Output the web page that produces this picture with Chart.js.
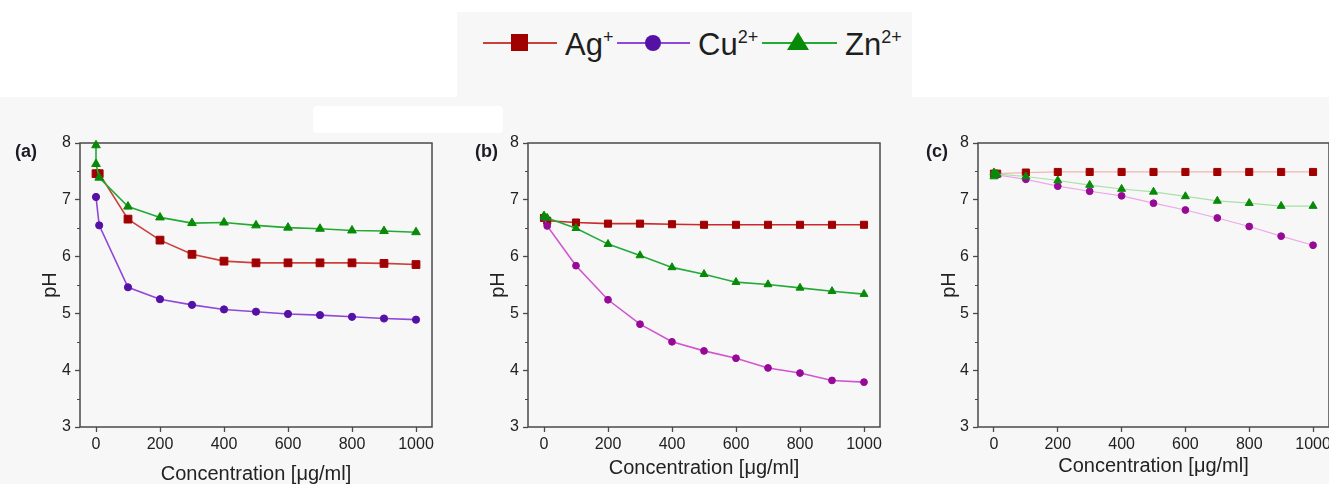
<!DOCTYPE html>
<html>
<head>
<meta charset="utf-8">
<script src="https://cdn.jsdelivr.net/npm/chart.js@4.4.0/dist/chart.umd.min.js"></script>
<style>
html,body{margin:0;padding:0;width:1329px;height:484px;overflow:hidden;background:#fff;font-family:'Liberation Sans',Arial,sans-serif;}
#panelbg{position:absolute;left:0;top:97px;width:1329px;height:387px;background:#f7f7f7;}
#legendbg{position:absolute;left:457px;top:12px;width:455px;height:86px;background:#f7f7f7;}
#whitebox{position:absolute;left:313px;top:106px;width:190px;height:27px;background:#fff;border-radius:4px;}
canvas.cv{position:absolute;top:97px;}
.plabel{position:absolute;top:139px;font:bold 18px 'Liberation Sans',Arial,sans-serif;color:#1b1b24;line-height:24px;}
.lline{position:absolute;height:2px;top:42px;}
.ltext{position:absolute;top:29px;font-size:31px;line-height:31px;color:#1e1e1e;white-space:nowrap;}
.ltext sup{font-size:18px;vertical-align:12px;line-height:0;}
</style>
</head>
<body>
<div id="panelbg"></div>
<div id="legendbg"></div>
<div id="whitebox"></div>

<!-- legend -->
<div class="lline" style="left:483px;width:74px;background:#c8413c;"></div>
<div style="position:absolute;left:511px;top:34px;width:17px;height:17px;background:#a00000;"></div>
<div class="ltext" style="left:565px;">Ag<sup>+</sup></div>
<div class="lline" style="left:617px;width:73px;background:#9048d8;"></div>
<div style="position:absolute;left:645px;top:35px;width:16px;height:16px;border-radius:50%;background:#5510a5;"></div>
<div class="ltext" style="left:698px;">Cu<sup>2+</sup></div>
<div class="lline" style="left:762px;width:75px;background:#22aa33;"></div>
<div style="position:absolute;left:787px;top:32px;width:0;height:0;border-left:11px solid transparent;border-right:11px solid transparent;border-bottom:18px solid #078a07;"></div>
<div class="ltext" style="left:845px;">Zn<sup>2+</sup></div>

<canvas id="ca" class="cv" width="450" height="400" style="left:0px;"></canvas>
<canvas id="cb" class="cv" width="450" height="400" style="left:450px;"></canvas>
<canvas id="cc" class="cv" width="460" height="400" style="left:900px;"></canvas>

<div class="plabel" style="left:15px;">(a)</div>
<div class="plabel" style="left:475px;">(b)</div>
<div class="plabel" style="left:926px;">(c)</div>

<script>
// ---- data ----
const concX   = [0, 10, 100, 200, 300, 400, 500, 600, 700, 800, 900, 1000];
const concXZn = [0, 0, 10, 100, 200, 300, 400, 500, 600, 700, 800, 900, 1000];
const xTickValues = [0, 200, 400, 600, 800, 1000];
const yTickValues = [3, 4, 5, 6, 7, 8];
const yMinorTickValues = [3.5, 4.5, 5.5, 6.5, 7.5];
const seriesLabels = ['Ag+', 'Cu2+', 'Zn2+'];

// panel (a)
const agA = [7.46, 7.46, 6.66, 6.29, 6.04, 5.92, 5.89, 5.89, 5.89, 5.89, 5.88, 5.86];
const cuA = [7.05, 6.55, 5.46, 5.25, 5.15, 5.07, 5.03, 4.99, 4.97, 4.94, 4.91, 4.89];
const znA = [7.96, 7.63, 7.39, 6.88, 6.69, 6.59, 6.60, 6.55, 6.51, 6.49, 6.46, 6.45, 6.43];
// panel (b)
const agB = [6.68, 6.63, 6.60, 6.58, 6.58, 6.57, 6.56, 6.56, 6.56, 6.56, 6.56, 6.56];
const cuB = [6.68, 6.54, 5.84, 5.24, 4.81, 4.50, 4.34, 4.21, 4.04, 3.95, 3.82, 3.79];
const znB = [6.72, 6.70, 6.68, 6.50, 6.22, 6.02, 5.81, 5.69, 5.55, 5.51, 5.45, 5.39, 5.34];
// panel (c)
const agC = [7.46, 7.46, 7.48, 7.49, 7.49, 7.49, 7.49, 7.49, 7.49, 7.49, 7.49, 7.49];
const cuC = [7.45, 7.44, 7.36, 7.24, 7.15, 7.07, 6.94, 6.82, 6.68, 6.53, 6.36, 6.20];
const znC = [7.48, 7.41, 7.45, 7.41, 7.34, 7.26, 7.19, 7.14, 7.06, 6.98, 6.94, 6.89, 6.89];

// ---- styling ----
const FONT = "'Liberation Sans', Arial, sans-serif";
const AXIS_COLOR = '#4a4a4a';
Chart.defaults.font.family = FONT;

const framePlugin = {
  id: 'frame',
  beforeDatasetsDraw(chart) {
    const {ctx, chartArea: a, scales} = chart;
    ctx.save();
    ctx.strokeStyle = AXIS_COLOR;
    ctx.lineWidth = 1.5;
    ctx.strokeRect(a.left, a.top, a.right - a.left, a.bottom - a.top);
    ctx.lineWidth = 1.2;
    ctx.beginPath();
    yMinorTickValues.forEach(v => {
      const y = Math.round(scales.y.getPixelForValue(v)) + 0.5;
      ctx.moveTo(a.left - 3, y);
      ctx.lineTo(a.left, y);
    });
    ctx.stroke();
    ctx.restore();
  }
};

function toPoints(xs, ys) { return xs.map((x, i) => ({x: x, y: ys[i]})); }

function makeChart(id, series, cfg) {
  new Chart(document.getElementById(id), {
    type: 'scatter',
    data: {
      datasets: series.map(s => ({
        label: s.label,
        data: toPoints(s.xs, s.ys),
        showLine: true,
        tension: 0,
        borderColor: s.line,
        borderWidth: cfg.lw,
        backgroundColor: s.marker,
        pointBackgroundColor: s.marker,
        pointBorderColor: s.marker,
        pointBorderWidth: 1,
        pointStyle: s.style,
        pointRadius: s.r,
        pointHoverRadius: s.r,
        order: s.order,
        clip: false
      }))
    },
    options: {
      responsive: false,
      animation: false,
      devicePixelRatio: 1,
      events: [],
      layout: {padding: {left: 0, top: 46, right: cfg.padRight, bottom: 0}},
      plugins: {legend: {display: false}, tooltip: {enabled: false}, title: {display: false}},
      scales: {
        x: {
          type: 'linear', position: 'bottom', min: -50, max: 1050,
          afterBuildTicks: s => { s.ticks = xTickValues.map(v => ({value: v})); },
          afterFit: s => { s.height = 70; },
          border: {display: false},
          grid: {drawOnChartArea: false, drawTicks: true, tickLength: 5, tickColor: AXIS_COLOR, tickWidth: 1.3},
          ticks: {color: '#222', font: {size: 16, family: FONT}, padding: 3, maxRotation: 0, autoSkip: false,
                  callback: v => String(v)},
          title: {display: true, text: 'Concentration [μg/ml]', color: '#222',
                  font: {size: 20, family: FONT}, padding: {top: 0, bottom: cfg.xTitlePad}}
        },
        y: {
          type: 'linear', position: 'left', min: 3, max: 8,
          afterBuildTicks: s => { s.ticks = yTickValues.map(v => ({value: v})); },
          afterFit: s => { s.width = cfg.yAxisW; },
          border: {display: false},
          grid: {drawOnChartArea: false, drawTicks: true, tickLength: 5, tickColor: AXIS_COLOR, tickWidth: 1.3},
          ticks: {color: '#222', font: {size: 16, family: FONT}, padding: 4, callback: v => String(v)},
          title: {display: true, text: 'pH', color: '#222',
                  font: {size: 20, family: FONT}, padding: {top: cfg.yTitlePad, bottom: 0}}
        }
      }
    },
    plugins: [framePlugin]
  });
}

makeChart('ca', [
  {label: seriesLabels[0], xs: concX,   ys: agA, line: '#c8413c', marker: '#a00000', style: 'rect',     r: 5.5, order: 2},
  {label: seriesLabels[1], xs: concX,   ys: cuA, line: '#9048d8', marker: '#5510a5', style: 'circle',   r: 3.6, order: 1},
  {label: seriesLabels[2], xs: concXZn, ys: znA, line: '#22aa33', marker: '#078a07', style: 'triangle', r: 5,   order: 0}
], {lw: 1.6, padRight: 18, yAxisW: 80, yTitlePad: 38, xTitlePad: 11});

makeChart('cb', [
  {label: seriesLabels[0], xs: concX,   ys: agB, line: '#cc2a2a', marker: '#a00000', style: 'rect',     r: 5,   order: 2},
  {label: seriesLabels[1], xs: concX,   ys: cuB, line: '#d254d0', marker: '#960a96', style: 'circle',   r: 3.4, order: 1},
  {label: seriesLabels[2], xs: concXZn, ys: znB, line: '#22aa3a', marker: '#078a07', style: 'triangle', r: 4.6, order: 0}
], {lw: 1.6, padRight: 20, yAxisW: 78, yTitlePad: 36.5, xTitlePad: 17});

makeChart('cc', [
  {label: seriesLabels[0], xs: concX,   ys: agC, line: '#f2b4b4', marker: '#a00000', style: 'rect',     r: 5,   order: 2},
  {label: seriesLabels[1], xs: concX,   ys: cuC, line: '#eea6ea', marker: '#960a96', style: 'circle',   r: 3.4, order: 1},
  {label: seriesLabels[2], xs: concXZn, ys: znC, line: '#a8e0a8', marker: '#078a07', style: 'triangle', r: 4.6, order: 0}
], {lw: 1.2, padRight: 31, yAxisW: 78, yTitlePad: 37.5, xTitlePad: 19});
</script>
</body>
</html>
